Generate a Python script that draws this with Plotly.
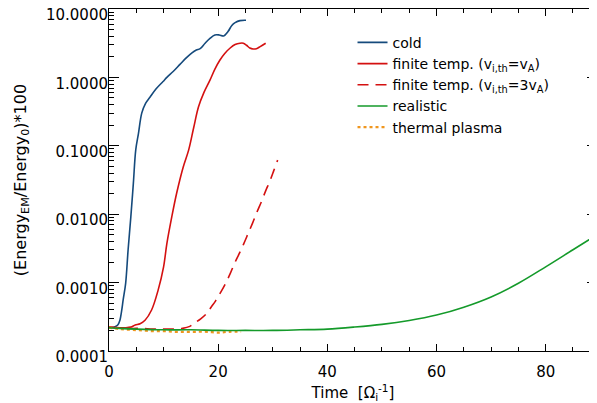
import plotly.graph_objects as go

# ---- data ----
t_cold = [0, 0.5, 1.1, 1.6, 2.0, 2.3, 2.6, 3.05, 3.5, 4.0, 4.46, 4.9, 5.4, 6.0, 6.7, 7.5,
          8.6, 9.9, 10.6, 11.8, 13.0, 14.2, 15.2, 16.0, 16.7, 17.6, 18.5, 19.4, 20.2, 21.0,
          21.8, 22.5, 23.1, 24.0, 25.1]
e_cold = [2.2e-4, 2.2e-4, 2.26e-4, 2.40e-4, 2.82e-4, 3.80e-4, 5.62e-4, 9.77e-4, 3.02e-3,
          9.12e-3, 2.82e-2, 8.71e-2, 0.152, 0.300, 0.417, 0.513, 0.676, 0.871, 1.0, 1.23,
          1.55, 1.95, 2.29, 2.51, 2.63, 3.16, 3.72, 4.17, 4.17, 4.03, 4.68, 5.75, 6.31,
          6.76, 6.84]

t_fin1 = [0, 1, 2, 3, 4, 4.8, 5.7, 6.6, 7.8, 9.0, 10.0, 10.6, 11.5, 12.4, 13.6, 14.6,
          15.5, 16.4, 17.4, 18.5, 19.4, 20.3, 21.2, 22.2, 23.1, 24.0, 24.6, 25.2, 25.8,
          26.4, 27.0, 27.7, 28.7]
e_fin1 = [2.24e-4, 2.19e-4, 2.19e-4, 2.19e-4, 2.24e-4, 2.40e-4, 2.51e-4, 2.82e-4, 3.98e-4,
          7.76e-4, 1.70e-3, 3.72e-3, 9.12e-3, 2.04e-2, 4.90e-2, 8.71e-2, 0.182, 0.372,
          0.603, 0.912, 1.32, 1.78, 2.24, 2.69, 3.02, 3.16, 3.16, 2.95, 2.69, 2.60, 2.63,
          2.82, 3.16]

t_fin3 = [0, 2, 4, 6, 8, 10, 12, 13.5, 14.8, 15.7, 16.8, 17.9, 18.7, 19.5, 20.4, 21.3,
          22.2, 23.0, 23.9, 24.7, 25.5, 26.3, 27.1, 27.9, 28.7, 29.5, 30.2, 30.9]
e_fin3 = [2.24e-4, 2.19e-4, 2.14e-4, 2.14e-4, 2.09e-4, 2.09e-4, 2.09e-4, 2.14e-4, 2.29e-4,
          2.57e-4, 2.95e-4, 3.55e-4, 4.37e-4, 5.37e-4, 7.08e-4, 9.55e-4, 1.35e-3, 1.91e-3,
          2.69e-3, 3.72e-3, 5.25e-3, 7.41e-3, 1.07e-2, 1.51e-2, 2.19e-2, 3.09e-2, 4.37e-2,
          6.17e-2]

t_real = [0, 2, 5, 10, 15, 20, 25, 30, 35, 40, 45, 50, 55, 60, 65, 70, 75, 80, 85, 90]
e_real = [2.19e-4, 2.14e-4, 2.09e-4, 2.04e-4, 2.04e-4, 2.0e-4, 2.0e-4, 2.0e-4, 2.04e-4,
          2.09e-4, 2.24e-4, 2.45e-4, 2.79e-4, 3.35e-4, 4.37e-4, 6.17e-4, 9.77e-4, 1.70e-3,
          3.02e-3, 5.37e-3]

t_therm = [0, 2, 4, 6, 8, 10, 12, 14, 16, 18, 20, 22, 24.2]
e_therm = [2.19e-4, 2.09e-4, 2.04e-4, 2.0e-4, 1.95e-4, 1.95e-4, 1.91e-4, 1.91e-4, 1.91e-4,
           1.91e-4, 1.86e-4, 1.91e-4, 1.91e-4]

y_tickvals = [1e-4, 1e-3, 1e-2, 1e-1, 1, 10]
y_ticktext = ["0.0001", "0.0010", "0.0100", "0.1000", "1.0000", "10.0000"]
x_tickvals = [0, 20, 40, 60, 80]

names = ["cold",
         "finite temp. (v<sub>i,th</sub>=v<sub>A</sub>)",
         "finite temp. (v<sub>i,th</sub>=3v<sub>A</sub>)",
         "realistic",
         "thermal plasma"]

fig = go.Figure()
fig.add_trace(go.Scatter(x=t_cold, y=e_cold, mode="lines", name=names[0], legendrank=1,
                         line=dict(color="#154a7c", width=1.6, shape="spline")))
fig.add_trace(go.Scatter(x=t_fin1, y=e_fin1, mode="lines", name=names[1], legendrank=2,
                         line=dict(color="#d41010", width=1.6, shape="spline")))
fig.add_trace(go.Scatter(x=t_fin3, y=e_fin3, mode="lines", name=names[2], legendrank=3,
                         line=dict(color="#d41010", width=1.6, shape="spline", dash="11px,7px")))
fig.add_trace(go.Scatter(x=t_therm, y=e_therm, mode="lines", name=names[4], legendrank=5,
                         line=dict(color="#f0961e", width=2.2, shape="spline", dash="3px,3px")))
fig.add_trace(go.Scatter(x=t_real, y=e_real, mode="lines", name=names[3], legendrank=4,
                         line=dict(color="#149a2a", width=1.6, shape="spline")))

# minor tick positions on the log axis
y_minor = [m * 10 ** e for e in range(-4, 1) for m in range(2, 10)]

fig.update_layout(
    width=597, height=403,
    margin=dict(l=101, r=8, t=1, b=60),
    paper_bgcolor="white", plot_bgcolor="white",
    font=dict(family="DejaVu Sans", size=15, color="black"),
    showlegend=True,
    legend=dict(x=0.499, y=0.948, xanchor="left", yanchor="top",
                bgcolor="rgba(0,0,0,0)", font=dict(size=14),
                traceorder="normal", tracegroupgap=0),
)
fig.update_xaxes(
    range=[0, 89.4], showline=True, linecolor="black", linewidth=1, mirror="ticks",
    ticks="inside", ticklen=7, tickcolor="black", tickvals=x_tickvals,
    ticklabelstandoff=7,
    minor=dict(dtick=5, ticks="inside", ticklen=4, tickcolor="black"),
    showgrid=False, zeroline=False, automargin=False,
    title=dict(text="Time  [Ω<sub>i</sub><sup>-1</sup>]", standoff=7, font=dict(size=15)),
)
fig.update_yaxes(
    type="log", range=[-4, 1], showline=True, linecolor="black", linewidth=1, mirror="ticks",
    ticks="inside", ticklen=10, tickcolor="black",
    tickmode="array", tickvals=y_tickvals, ticktext=y_ticktext,
    ticklabelshift=6, ticklabelstandoff=-3, ticklabeloverflow="allow",
    minor=dict(tickmode="array", tickvals=y_minor, ticks="inside", ticklen=5, tickcolor="black"),
    showgrid=False, zeroline=False, automargin=False,
    title=dict(text="(Energy<sub>EM</sub>/Energy<sub>0</sub>)*100", standoff=15, font=dict(size=16)),
)

fig.write_html("out.html")
